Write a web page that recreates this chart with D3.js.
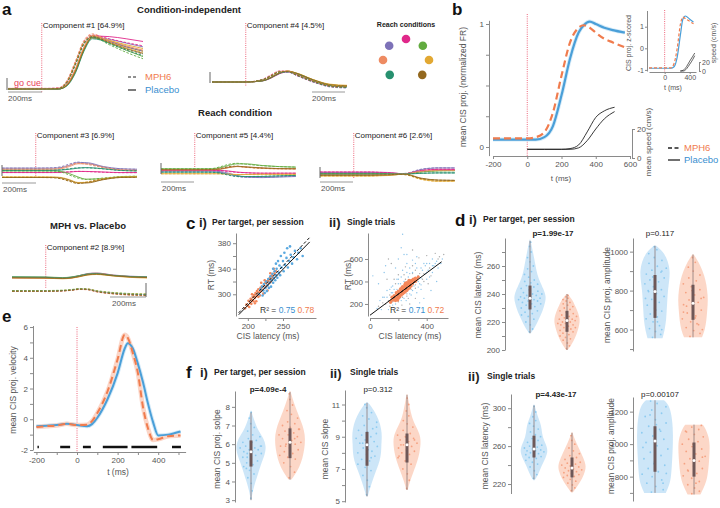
<!DOCTYPE html>
<html lang="en">
<head>
<meta charset="utf-8">
<title>CIS figure</title>
<script src="https://d3js.org/d3.v7.min.js"></script>
<style>
  body{margin:0;background:#fff;}
  text{font-family:"Liberation Sans",Arial,sans-serif;}
</style>
</head>
<body>
<div id="fig"></div>
<script>
// ---------------- data ----------------
var condNames = ["purple","pink","green","orange","yellow","teal","brown"]
var condColors = ["#7d72b8","#e0288a","#62ab3f","#ee8b62","#e2a833","#27906f","#93681e"]
var reachAngles = [137,90,43,180,0,225,315]

var compTimes = [-200,0,100,150,200,250,300,400,500,600]
var comp1Placebo = [
  [0,0,0,0.08,0.34,0.74,0.96,0.92,0.85,0.78],
  [0.01,0.01,0.01,0.09,0.36,0.76,0.98,0.97,0.93,0.88],
  [0,0,0,0.07,0.32,0.72,0.95,0.85,0.72,0.6],
  [0,0,0.01,0.1,0.38,0.78,0.99,0.9,0.8,0.72],
  [0.01,0.01,0.01,0.08,0.35,0.75,0.97,0.9,0.82,0.75],
  [0,0,0,0.06,0.3,0.7,0.93,0.86,0.75,0.66],
  [0,0,0,0.07,0.33,0.73,0.95,0.88,0.78,0.7]]
var comp1Mph = [
  [0,0,0.01,0.14,0.48,0.86,0.98,0.88,0.78,0.7],
  [0.01,0.01,0.02,0.15,0.5,0.88,1.0,0.93,0.86,0.8],
  [0,0,0.01,0.13,0.46,0.84,0.96,0.82,0.68,0.56],
  [0,0,0.02,0.16,0.52,0.9,1.02,0.88,0.76,0.66],
  [0,0,0.01,0.14,0.49,0.87,0.99,0.86,0.76,0.68],
  [0,0,0.01,0.12,0.45,0.83,0.96,0.84,0.72,0.62],
  [0,0,0.01,0.13,0.47,0.85,0.97,0.86,0.74,0.65]]
var comp4Placebo = [
  [0,0,0.12,0.4,0.8,0.95,0.75,0.1,-0.35,-0.45],
  [0,0,0.1,0.35,0.75,0.92,0.72,0.12,-0.3,-0.4],
  [0,0,0.12,0.42,0.82,0.98,0.8,0.2,-0.25,-0.35],
  [0,0,0.14,0.45,0.85,1.0,0.78,0.15,-0.3,-0.4],
  [0,0,0.12,0.4,0.82,0.98,0.82,0.22,-0.2,-0.3],
  [0,0,0.1,0.38,0.78,0.95,0.76,0.15,-0.3,-0.45],
  [0,0,0.12,0.42,0.82,0.98,0.8,0.2,-0.25,-0.35]]
var comp4Mph = [
  [0,0,0.2,0.55,0.9,0.9,0.6,0.0,-0.45,-0.55],
  [0,0,0.25,0.65,1.0,0.95,0.6,0.0,-0.4,-0.5],
  [0,0,0.22,0.58,0.95,0.95,0.65,0.05,-0.35,-0.45],
  [0,0,0.22,0.6,0.98,0.98,0.65,0.05,-0.4,-0.5],
  [0,0,0.2,0.55,0.92,0.96,0.68,0.1,-0.3,-0.4],
  [0,0,0.2,0.55,0.9,0.92,0.62,0.02,-0.4,-0.5],
  [0,0,0.2,0.56,0.92,0.95,0.66,0.08,-0.35,-0.45]]
var comp3Placebo = [
  [0.35,0.35,0.35,0.4,0.6,0.85,0.85,0.5,0.3,0.25],
  [-0.05,-0.05,-0.05,-0.05,0.0,0.05,0.05,0.0,-0.05,-0.05],
  [0.1,0.1,0.1,0.05,-0.15,-0.45,-0.65,-0.6,-0.45,-0.4],
  [0.25,0.25,0.25,0.3,0.5,0.75,0.75,0.45,0.2,0.15],
  [-0.45,-0.45,-0.45,-0.5,-0.7,-0.95,-0.95,-0.65,-0.45,-0.42],
  [0.15,0.15,0.15,0.18,0.25,0.35,0.4,0.3,0.15,0.1],
  [-0.5,-0.5,-0.5,-0.55,-0.75,-1.0,-1.0,-0.7,-0.5,-0.48]]
var comp3Mph = [
  [0.35,0.35,0.38,0.48,0.72,0.9,0.8,0.45,0.28,0.25],
  [-0.05,-0.05,-0.05,-0.03,0.02,0.06,0.04,-0.02,-0.06,-0.06],
  [0.1,0.1,0.08,0.0,-0.28,-0.55,-0.68,-0.55,-0.42,-0.38],
  [0.25,0.25,0.28,0.38,0.62,0.8,0.7,0.4,0.2,0.15],
  [-0.45,-0.45,-0.48,-0.58,-0.82,-1.0,-0.9,-0.6,-0.45,-0.42],
  [0.15,0.15,0.16,0.2,0.3,0.38,0.38,0.28,0.14,0.1],
  [-0.5,-0.5,-0.52,-0.62,-0.85,-1.05,-0.95,-0.65,-0.5,-0.48]]
var comp5Placebo = [
  [0.0,0.0,0.0,-0.05,-0.2,-0.4,-0.55,-0.6,-0.55,-0.5],
  [0.05,0.05,0.05,0.05,0.0,-0.1,-0.15,-0.2,-0.2,-0.2],
  [0.2,0.2,0.2,0.3,0.5,0.65,0.65,0.5,0.4,0.35],
  [0.1,0.1,0.1,0.15,0.3,0.4,0.35,0.25,0.2,0.2],
  [-0.25,-0.25,-0.25,-0.25,-0.28,-0.32,-0.32,-0.3,-0.3,-0.3],
  [-0.1,-0.1,-0.1,-0.15,-0.3,-0.45,-0.5,-0.5,-0.45,-0.4],
  [0.12,0.12,0.12,0.18,0.32,0.42,0.38,0.28,0.22,0.2]]
var comp5Mph = [
  [0.0,0.0,-0.02,-0.1,-0.3,-0.5,-0.58,-0.58,-0.52,-0.48],
  [0.05,0.05,0.05,0.03,-0.05,-0.12,-0.16,-0.2,-0.2,-0.2],
  [0.2,0.2,0.22,0.38,0.6,0.7,0.62,0.48,0.4,0.36],
  [0.1,0.1,0.12,0.2,0.36,0.42,0.34,0.24,0.2,0.2],
  [-0.25,-0.25,-0.25,-0.26,-0.3,-0.33,-0.32,-0.3,-0.3,-0.3],
  [-0.1,-0.1,-0.12,-0.2,-0.38,-0.5,-0.5,-0.48,-0.44,-0.4],
  [0.12,0.12,0.14,0.22,0.38,0.44,0.36,0.26,0.22,0.2]]
var comp6Placebo = [
  [0.12,0.12,0.12,0.11,0.1,0.06,0.0,0.4,0.55,0.55],
  [0.18,0.18,0.18,0.16,0.14,0.08,0.0,0.3,0.42,0.42],
  [0.05,0.05,0.05,0.05,0.04,0.02,0.0,0.18,0.28,0.3],
  [-0.05,-0.05,-0.05,-0.05,-0.04,-0.02,0.0,0.22,0.32,0.32],
  [-0.18,-0.18,-0.18,-0.16,-0.14,-0.08,0.0,-0.45,-0.65,-0.65],
  [0.0,0.0,0.0,0.0,0.0,0.0,0.0,0.06,0.1,0.1],
  [-0.12,-0.12,-0.12,-0.11,-0.1,-0.06,0.0,-0.38,-0.55,-0.58]]
var comp6Mph = [
  [0.12,0.12,0.12,0.1,0.08,0.03,0.05,0.44,0.56,0.55],
  [0.18,0.18,0.18,0.15,0.12,0.05,0.04,0.33,0.43,0.42],
  [0.05,0.05,0.05,0.05,0.03,0.01,0.02,0.2,0.29,0.3],
  [-0.05,-0.05,-0.05,-0.05,-0.03,0.0,0.03,0.25,0.33,0.32],
  [-0.18,-0.18,-0.18,-0.15,-0.12,-0.04,-0.06,-0.5,-0.66,-0.65],
  [0.0,0.0,0.0,0.0,0.0,0.0,0.01,0.07,0.1,0.1],
  [-0.12,-0.12,-0.12,-0.1,-0.08,-0.03,-0.05,-0.42,-0.56,-0.58]]
var comp2Placebo = [
  [0.7,0.68,0.62,0.68,0.85,1.05,1.1,0.9,0.78,0.72],
  [0.62,0.6,0.55,0.6,0.78,0.98,1.05,0.85,0.72,0.66],
  [0.72,0.7,0.64,0.7,0.85,1.0,1.02,0.85,0.75,0.7],
  [0.65,0.63,0.58,0.64,0.82,1.02,1.08,0.88,0.74,0.68],
  [0.6,0.58,0.52,0.58,0.72,0.9,0.95,0.8,0.66,0.6],
  [0.68,0.66,0.6,0.66,0.82,1.0,1.04,0.86,0.74,0.7],
  [0.62,0.6,0.55,0.6,0.75,0.92,0.98,0.82,0.7,0.64]]
var comp2Mph = [
  [-0.7,-0.7,-0.66,-0.6,-0.5,-0.52,-0.7,-0.9,-1.0,-1.05],
  [-0.72,-0.72,-0.68,-0.62,-0.52,-0.55,-0.75,-0.95,-1.05,-1.1],
  [-0.65,-0.65,-0.62,-0.56,-0.46,-0.5,-0.66,-0.85,-0.95,-1.0],
  [-0.75,-0.75,-0.7,-0.64,-0.55,-0.58,-0.78,-1.0,-1.12,-1.18],
  [-0.68,-0.68,-0.64,-0.58,-0.48,-0.5,-0.68,-0.88,-0.98,-1.02],
  [-0.7,-0.7,-0.66,-0.6,-0.5,-0.54,-0.72,-0.92,-1.02,-1.08],
  [-0.73,-0.73,-0.69,-0.63,-0.53,-0.56,-0.76,-0.97,-1.08,-1.14]]

// panel b
var bTimes = [-200,0,50,100,150,200,250,300,330,365,400,450,500,570]
var bPlacebo = [0.06,0.06,0.06,0.08,0.17,0.42,0.72,0.93,0.99,1.02,1.0,0.97,0.95,0.93]
var bMph = [0.07,0.07,0.08,0.12,0.28,0.58,0.85,0.97,0.99,0.97,0.93,0.88,0.85,0.81]
var bSpeedTimes = [0,100,200,250,300,350,400,450,510]
var bSpeedA = [6,6,6,6.5,9,18,28,32.5,35]
var bSpeedB = [6,6,6,6,7,12,20,27,32]
var insetTimes = [-250,100,150,200,250,290,330,400,460]
var insetMph = [-0.9,-0.9,-0.7,0.0,1.1,1.45,1.38,1.25,1.14]
var insetPlacebo = [-0.92,-0.92,-0.85,-0.4,0.6,1.35,1.5,1.35,1.22]
var insetSpeedTimes = [250,300,350,400,450,480]
var insetSpeedA = [0,2,10,22,33,40]
var insetSpeedB = [0,0,5,15,26,34]

// panel c  [CIS latency, RT]
var cSessOrange = [[196,278],[198,284],[200,282],[201,290],[203,287],[204,293],[205,285],[206,291],[207,296],[208,289],[209,299],[210,294],[211,302],[212,297],[212,289],[213,305],[214,300],[215,308],[216,303],[217,298],[218,310],[219,305],[220,312],[221,307],[222,301],[223,315],[224,310],[225,318],[226,312],[227,320],[228,314],[229,322],[230,317],[231,325],[232,319],[233,328],[234,322],[235,330],[236,326],[238,333],[240,336],[202,280],[206,300],[210,286],[215,296],[219,318],[224,322],[228,306],[232,333],[237,340]]
var cSessBlue = [[216,300],[218,308],[220,312],[221,298],[222,306],[223,316],[224,302],[225,310],[226,320],[227,305],[228,314],[229,324],[230,310],[231,318],[232,328],[233,312],[234,322],[235,332],[236,318],[237,326],[238,336],[239,322],[240,330],[241,340],[242,326],[244,334],[245,345],[246,330],[248,342],[250,352],[251,336],[253,346],[255,357],[257,342],[259,352],[261,362],[263,348],[265,358],[267,368],[270,355],[272,365],[275,372],[278,360],[243,352],[247,360],[252,365],[256,372],[260,375],[236,340],[240,348]]
var cSessFitSolid = [[187,268],[288,382]]
var cSessFitDashed = [[187,271],[288,389]]
var cTrialsCloud = [[60,180],[80,150],[90,260],[110,200],[120,320],[130,150],[140,280],[150,350],[160,190],[170,420],[180,240],[190,330],[200,460],[210,250],[215,380],[225,190],[230,500],[240,300],[250,420],[255,230],[260,560],[270,340],[280,470],[290,280],[295,400],[300,590],[310,360],[320,500],[330,300],[340,450],[345,610],[350,380],[360,520],[370,420],[380,560],[390,470],[400,630],[410,500],[420,560],[430,450],[440,600],[450,540],[460,650],[470,580],[480,520],[490,620],[500,560],[510,600],[520,640],[200,600],[100,480],[150,560],[430,320],[380,250],[300,680],[240,640],[60,380],[120,420],[350,210],[470,400],[280,200],[180,520],[330,620],[410,380],[260,640],[160,300],[130,600],[220,700],[20,450],[270,250],[230,820],[110,540],[320,250],[440,480],[360,330],[250,530],[190,420],[400,560],[300,470],[140,210],
  [100,260],[130,230],[150,300],[170,330],[190,280],[200,380],[210,330],[230,260],[240,400],[250,350],[260,290],[270,440],[280,390],[290,330],[300,480],[310,420],[320,370],[330,520],[340,400],[350,470],[360,430],[370,500],[380,470],[390,540],[400,480],[420,520],[440,540],[460,560],[480,600],[140,330],[160,360],[180,380],[200,420],[220,440],[240,460],[260,480],[280,520],[300,540],[320,560],[120,260],[140,180],[160,220],[180,200],[200,220],[220,230],[240,250],[260,270],[280,290],[300,320],[320,340],[340,350],[360,370],[380,400],[400,420],[420,440],[90,210],[70,230],[50,160]]
var cTrialsOrange = [[150,230],[160,245],[165,235],[170,255],[175,250],[180,265],[182,245],[185,275],[190,260],[192,280],[195,270],[198,290],[200,265],[203,285],[205,300],[208,280],[210,295],[212,310],[215,290],[217,305],[220,320],[222,300],[224,315],[226,330],[228,310],[230,325],[232,340],[234,315],[236,330],[238,345],[240,320],[242,335],[244,350],[246,330],[248,345],[250,360],[252,340],[254,355],[256,370],[258,350],[260,365],[263,380],[266,360],[268,375],[270,390],[273,370],[276,385],[280,400],[284,380],[288,395],[292,410],[296,390],[300,405],[305,420],[310,400],[315,415],[320,430],[330,420],[340,440],[180,230],[190,245],[200,250],[210,265],[220,280],[230,290],[240,300],[250,310],[260,320],[270,335],[280,345],[290,360],[170,275],[185,300],[200,315],[215,335],[230,355],[245,370],[260,390],[275,410],[155,260],[145,215],[195,235],[235,300],[265,345],[300,380],[320,400],[225,345],[250,385]]
var cTrialsFitSolid = [[0,100],[505,575]]
var cTrialsFitDashed = [[160,250],[330,410]]

// panel d / f violins: density profile [value, relative density], points, [min,q1,median,q3,max]
var dLatBlueDens = [[212,0.05],[216,0.3],[222,0.55],[228,0.8],[234,0.95],[238,1.0],[242,0.9],[248,0.65],[254,0.45],[260,0.35],[266,0.25],[272,0.15],[279,0.02]]
var dLatBluePts = [213,215,218,220,222,224,225,226,227,228,229,230,231,232,233,233,234,235,235,236,236,237,237,238,238,239,239,240,240,241,242,243,244,245,246,247,248,249,250,252,254,256,258,260,263,266,270,274,277]
var dLatBlueBox = [212,229,237,246,278]
var dLatOrangeDens = [[200,0.05],[204,0.35],[208,0.6],[213,0.8],[218,0.95],[222,1.0],[227,0.85],[232,0.6],[236,0.4],[240,0.05]]
var dLatOrangePts = [201,203,205,207,208,209,210,211,212,213,214,214,215,216,216,217,218,218,219,219,220,220,221,221,222,222,223,224,224,225,226,227,228,229,230,231,232,233,234,235,236,237,238,239]
var dLatOrangeBox = [200,213,221,228,240]
var dAmpBlueDens = [[555,0.5],[600,0.65],[650,0.75],[700,0.78],[750,0.82],[800,0.86],[850,0.95],[900,1.0],[950,0.88],[1000,0.55],[1030,0.08]]
var dAmpBluePts = [560,575,590,605,620,640,655,665,680,695,710,725,740,755,770,785,795,805,820,835,845,855,865,875,885,895,905,915,925,940,955,970,990,1010,1025,600,700,800,900,870,760,640]
var dAmpBlueBox = [555,660,795,880,1030]
var dAmpOrangeDens = [[560,0.6],[600,0.8],[650,0.9],[700,0.95],[750,1.0],[800,0.95],[850,0.85],[900,0.65],[950,0.35],[985,0.05]]
var dAmpOrangePts = [565,580,595,610,625,640,655,670,685,700,715,728,740,752,765,778,790,805,820,835,850,865,880,900,920,945,970,600,660,720,760,800,690,630]
var dAmpOrangeBox = [560,650,735,830,985]
var d2LatBlueDens = [[224,0.05],[230,0.3],[240,0.55],[248,0.85],[255,1.0],[262,0.85],[270,0.6],[278,0.55],[285,0.45],[292,0.25],[300,0.1],[304,0.02]]
var d2LatBluePts = [226,230,234,238,241,243,245,247,248,249,250,251,252,253,254,255,255,256,257,258,259,260,261,262,264,266,268,270,272,275,278,281,284,287,291,296,302]
var d2LatBlueBox = [225,248,257,271,303]
var d2LatOrangeDens = [[211,0.05],[218,0.4],[226,0.75],[234,0.95],[240,1.0],[248,0.8],[256,0.55],[264,0.3],[270,0.12],[275,0.02]]
var d2LatOrangePts = [213,216,219,221,223,225,227,228,229,230,231,232,233,234,235,236,237,238,239,240,241,242,243,244,246,248,250,252,255,258,262,266,271]
var d2LatOrangeBox = [212,227,237,248,274]
var d2AmpBlueDens = [[700,0.6],[750,0.8],[800,0.9],[900,0.95],[1000,1.0],[1100,1.0],[1200,0.9],[1250,0.7],[1270,0.5]]
var d2AmpBluePts = [705,720,740,760,780,800,815,830,850,870,890,910,930,950,970,990,1010,1030,1050,1070,1090,1110,1130,1150,1170,1190,1210,1230,1250,1265,760,880,980,1080,1180,820,1120]
var d2AmpBlueBox = [700,830,1020,1110,1270]
var d2AmpOrangeDens = [[690,0.4],[750,0.7],[800,0.85],[900,0.95],[1000,1.0],[1050,0.9],[1100,0.7],[1120,0.55]]
var d2AmpOrangePts = [695,710,730,750,770,790,805,820,835,850,865,880,895,910,925,940,955,970,985,1000,1015,1030,1045,1060,1075,1090,1105,1115,760,840,920,1000,1080]
var d2AmpOrangeBox = [690,800,900,1010,1120]
var fSlopeBlueDens = [[3.0,0.02],[3.5,0.12],[4.0,0.3],[4.5,0.5],[5.0,0.7],[5.5,0.95],[5.9,1.0],[6.3,0.85],[6.7,0.5],[7.1,0.3],[7.5,0.12],[7.8,0.02]]
var fSlopeBluePts = [3.1,3.5,3.9,4.2,4.4,4.6,4.8,4.9,5.0,5.1,5.2,5.3,5.4,5.5,5.5,5.6,5.6,5.7,5.7,5.8,5.8,5.9,5.9,6.0,6.1,6.2,6.3,6.4,6.5,6.7,6.9,7.1,7.4,7.7,5.3,5.9,6.1,4.7]
var fSlopeBlueBox = [3.0,4.8,5.6,6.2,7.7]
var fSlopeOrangeDens = [[4.1,0.1],[4.5,0.45],[5.0,0.75],[5.5,0.9],[6.0,1.0],[6.5,1.0],[7.0,0.85],[7.5,0.6],[8.0,0.35],[8.5,0.15],[8.85,0.02]]
var fSlopeOrangePts = [4.2,4.5,4.8,5.0,5.2,5.3,5.4,5.5,5.6,5.7,5.8,5.9,6.0,6.0,6.1,6.2,6.3,6.4,6.5,6.5,6.6,6.7,6.8,6.9,7.0,7.1,7.2,7.4,7.6,7.8,8.1,8.4,8.7,6.3,5.9,6.8]
var fSlopeOrangeBox = [4.1,5.25,6.1,6.85,8.8]
var f2SlopeBlueDens = [[5.3,0.05],[5.8,0.2],[6.5,0.45],[7.0,0.65],[7.5,0.85],[8.0,0.95],[8.5,0.95],[9.0,1.0],[9.5,0.95],[10.0,0.8],[10.5,0.55],[11.0,0.2],[11.15,0.02]]
var f2SlopeBluePts = [5.4,5.9,6.3,6.6,6.9,7.1,7.3,7.5,7.6,7.8,7.9,8.0,8.1,8.3,8.4,8.5,8.6,8.7,8.8,8.9,9.0,9.1,9.2,9.3,9.4,9.5,9.7,9.9,10.1,10.3,10.5,10.8,11.0,7.7,8.6,9.6,8.2]
var f2SlopeBlueBox = [5.3,7.2,8.5,9.3,11.1]
var f2SlopeOrangeDens = [[5.7,0.05],[6.2,0.2],[6.8,0.45],[7.5,0.75],[8.0,0.9],[8.7,1.0],[9.2,0.9],[9.7,0.6],[10.2,0.35],[10.8,0.2],[11.3,0.1],[11.65,0.02]]
var f2SlopeOrangePts = [5.8,6.3,6.7,7.0,7.3,7.5,7.7,7.9,8.0,8.1,8.2,8.3,8.4,8.5,8.6,8.7,8.8,8.9,9.0,9.1,9.2,9.4,9.6,9.8,10.0,10.3,10.6,11.0,11.4,8.5,8.8,9.0,7.8]
var f2SlopeOrangeBox = [5.7,7.4,8.5,9.2,11.6]

// panel e
var eTimes = [-200,-150,-100,-50,0,50,75,100,150,200,235,250,275,300,325,350,375,400,450,510]
var ePlacebo = [-0.45,-0.42,-0.38,-0.3,-0.38,-0.45,-0.3,0.1,1.3,3.0,4.6,4.95,4.6,3.6,2.4,1.0,-0.2,-1.05,-1.0,-0.8]
var eMph = [-0.5,-0.45,-0.4,-0.3,-0.38,-0.35,-0.1,0.4,1.8,3.9,5.5,5.3,4.3,3.0,0.8,-0.6,-1.35,-1.3,-1.1,-1.05]
var eSigBars = [[-195,-188],[-83,-34],[29,68],[127,249],[268,395],[468,512]]

// ---------------- drawing ----------------
var BLUE = "#4a9fd8", ORANGE = "#f07c4e", RED = "#e8405a"
var svg = d3.select("#fig").append("svg").attr("width",720).attr("height",508)

function txt(x,y,s,size,opt){
  opt = opt || {}
  var t = svg.append("text").attr("x",x).attr("y",y).text(s)
    .style("font-size",size+"px")
    .attr("fill",opt.fill||"#222")
    .attr("text-anchor",opt.anchor||"start")
    .style("font-weight",opt.bold?"bold":"normal")
  if(opt.rot) t.attr("transform","rotate(-90,"+x+","+y+")")
  return t
}
function axis(orient,pos,scale,ticks,labels,fs){
  var gen = orient=="left"?d3.axisLeft(scale):orient=="right"?d3.axisRight(scale):d3.axisBottom(scale)
  gen.tickValues(ticks).tickSize(fs?2:3).tickSizeOuter(0).tickPadding(fs?1:2)
    .tickFormat(function(d){ return labels.indexOf(d)>=0 ? d : "" })
  var g = svg.append("g").attr("transform", orient=="bottom" ? "translate(0,"+pos+")" : "translate("+pos+",0)").call(gen)
  g.select(".domain").attr("stroke","#8a8a8a")
  g.selectAll(".tick line").attr("stroke","#8a8a8a")
  g.selectAll(".tick text").attr("fill","#555").style("font-size",(fs||8)+"px").style("font-family","Liberation Sans, Arial, sans-serif")
  return g
}
function redLine(x,y1,y2){
  svg.append("line").attr("x1",x).attr("x2",x).attr("y1",y1).attr("y2",y2)
    .attr("stroke",RED).attr("stroke-width",0.8).attr("stroke-dasharray","1,1.2")
}
function seg(x1,y1,x2,y2,col,w,dash){
  var l = svg.append("line").attr("x1",x1).attr("x2",x2).attr("y1",y1).attr("y2",y2)
    .attr("stroke",col).attr("stroke-width",w)
  if(dash) l.attr("stroke-dasharray",dash)
  return l
}

// ---- panel a ----
txt(2,15,"a",17,{bold:true,fill:"#111"})
txt(189,13,"Condition-independent",9.5,{bold:true,anchor:"middle"})
txt(235,116,"Reach condition",9.5,{bold:true,anchor:"middle"})
txt(88,229,"MPH vs. Placebo",9.5,{bold:true,anchor:"middle"})

function drawComp(x0,yMid,perUnit,plac,mph,label,labelY){
  var x = d3.scaleLinear().domain([-200,600]).range([x0,x0+135])
  var y = d3.scaleLinear().domain([0,1]).range([yMid,yMid-perUnit])
  var line = d3.line().x(function(d,i){return x(compTimes[i])}).y(function(d){return y(d)}).curve(d3.curveMonotoneX)
  redLine(x(0),labelY-5,yMid+4)
  txt(x(0)+1,labelY,label,8,{fill:"#222"})
  plac.forEach(function(arr,i){
    svg.append("path").attr("d",line(arr)).attr("fill","none").attr("stroke",condColors[i]).attr("stroke-width",0.9)
  })
  mph.forEach(function(arr,i){
    svg.append("path").attr("d",line(arr)).attr("fill","none").attr("stroke",condColors[i]).attr("stroke-width",0.9).attr("stroke-dasharray","2.5,1.5")
  })
  return x
}
function scaleBar(xl,yb,vTop,hx1,hx2,hy,tx,ty){
  seg(xl,vTop,xl,yb,"#666",1)
  seg(hx1,hy,hx2,hy,"#999",1)
  txt(tx,ty,"200ms",8,{fill:"#555"})
}

drawComp(8,89,54,comp1Placebo,comp1Mph,"Component #1 [64.9%]",28)
scaleBar(7,90,78,8,42,92,8,101)
txt(14,86,"go cue",9,{fill:RED})
seg(128,77,136,77,"#222",1.2,"3,2")
txt(145,80,"MPH6",9.5,{fill:ORANGE})
seg(128,90,136,90,"#222",1.2)
txt(145,93,"Placebo",9.5,{fill:"#3a8fd0"})

drawComp(212,82,11,comp4Placebo,comp4Mph,"Component #4 [4.5%]",28)
scaleBar(210,83,72,312,345,92,312,101)

txt(406,27,"Reach conditions",7,{bold:true,anchor:"middle"})
reachAngles.forEach(function(a,i){
  var r = a*Math.PI/180
  svg.append("circle").attr("cx",406+23*Math.cos(r)).attr("cy",60-21*Math.sin(r)).attr("r",4.3).attr("fill",condColors[i])
})

drawComp(2,172,11,comp3Placebo,comp3Mph,"Component #3 [6.9%]",138)
scaleBar(2,176,165,2,36,183,3,192)
drawComp(161,171,11,comp5Placebo,comp5Mph,"Component #5 [4.4%]",138)
scaleBar(161,174,163,161,194,182,162,191)
drawComp(320,174,11,comp6Placebo,comp6Mph,"Component #6 [2.6%]",138)
scaleBar(320,178,167,320,353,182,321,191)
drawComp(12,284,10,comp2Placebo,comp2Mph,"Component #2 [8.9%]",250)
scaleBar(146,297,283,110,146,297,112,306)

// ---- panel b ----
txt(452,15,"b",17,{bold:true,fill:"#111"})
var bx = d3.scaleLinear().domain([-200,600]).range([493,630])
var by = d3.scaleLinear().domain([0,1]).range([147,24])
var bs = d3.scaleLinear().domain([0,20]).range([158,129])
axis("left",489,d3.scaleLinear().domain([-0.07,1.03]).range([155.6,20.3]),[0,0.25,0.5,0.75,1],[0,1])
axis("bottom",156,bx,[-200,0,200,400,600],[-200,0,200,400,600])
axis("right",632,bs,[0,20],[0,20])
txt(561,181,"t (ms)",8,{fill:"#555",anchor:"middle"})
txt(466,87,"mean CIS proj. (normalized FR)",8.5,{fill:"#555",anchor:"middle",rot:true})
txt(651,142,"mean speed (cm/s)",8,{fill:"#555",anchor:"middle",rot:true})
redLine(bx(0),14,156)
var bLine = d3.line().x(function(d,i){return bx(bTimes[i])}).y(function(d){return by(d)}).curve(d3.curveMonotoneX)
var bsLine = d3.line().x(function(d,i){return bx(bSpeedTimes[i])}).y(function(d){return bs(d)}).curve(d3.curveMonotoneX)
svg.append("path").attr("d",bsLine(bSpeedA)).attr("fill","none").attr("stroke","#222").attr("stroke-width",0.9)
svg.append("path").attr("d",bsLine(bSpeedB)).attr("fill","none").attr("stroke","#222").attr("stroke-width",0.9)
svg.append("path").attr("d",bLine(bPlacebo)).attr("fill","none").attr("stroke","#d6ebf8").attr("stroke-width",4)
svg.append("path").attr("d",bLine(bPlacebo)).attr("fill","none").attr("stroke",BLUE).attr("stroke-width",2.2)
svg.append("path").attr("d",bLine(bMph)).attr("fill","none").attr("stroke",ORANGE).attr("stroke-width",2.2).attr("stroke-dasharray","7,4")
seg(668,148,680,148,"#222",1.3,"4,2.5")
txt(684,151,"MPH6",9.5,{fill:ORANGE})
seg(668,160,680,160,"#222",1.3)
txt(684,163,"Placebo",9.5,{fill:"#3a8fd0"})

// inset
var ix = d3.scaleLinear().domain([-250,500]).range([649,696])
var iy = d3.scaleLinear().domain([-1,1.5]).range([70,16])
var is = d3.scaleLinear().domain([0,20]).range([71,62])
axis("left",647,d3.scaleLinear().domain([-1.05,1.75]).range([71,10.5]),[-1,0,1],[-1,0,1],7)
axis("bottom",72,ix,[0,400],[0,400],7)
axis("right",699,is,[0,20],[0,20],7)
txt(673,90,"t (ms)",7,{fill:"#555",anchor:"middle"})
txt(631,43,"CIS proj. z-scored",7,{fill:"#555",anchor:"middle",rot:true})
txt(716,43,"speed (cm/s)",7,{fill:"#555",anchor:"middle",rot:true})
redLine(ix(0),10,72)
var iLine = d3.line().x(function(d,i){return ix(insetTimes[i])}).y(function(d){return iy(d)}).curve(d3.curveMonotoneX)
var isLine = d3.line().x(function(d,i){return ix(insetSpeedTimes[i])}).y(function(d){return is(d)}).curve(d3.curveMonotoneX)
svg.append("path").attr("d",isLine(insetSpeedA)).attr("fill","none").attr("stroke","#222").attr("stroke-width",0.7)
svg.append("path").attr("d",isLine(insetSpeedB)).attr("fill","none").attr("stroke","#222").attr("stroke-width",0.7)
svg.append("path").attr("d",iLine(insetPlacebo)).attr("fill","none").attr("stroke",BLUE).attr("stroke-width",1.2)
svg.append("path").attr("d",iLine(insetMph)).attr("fill","none").attr("stroke",ORANGE).attr("stroke-width",1.2).attr("stroke-dasharray","3,2")

// ---- panel c ----
txt(186,229,"c",17,{bold:true,fill:"#111"})
txt(199,227,"i)",13,{bold:true})
txt(212,225,"Per target, per session",8.5,{bold:true})
txt(329,227,"ii)",13,{bold:true})
txt(347,225,"Single trials",8.5,{bold:true})

var c1x = d3.scaleLinear().domain([186,297]).range([238,316])
var c1y = d3.scaleLinear().domain([266,396]).range([316,233])
axis("left",236,c1y,[300,320,340,360,380],[300,340,380])
axis("bottom",318,c1x,[200,225,250],[200,250])
txt(214,275,"RT (ms)",8.5,{fill:"#555",anchor:"middle",rot:true})
txt(268,339,"CIS latency (ms)",8.5,{fill:"#555",anchor:"middle"})
cSessOrange.forEach(function(p){ svg.append("circle").attr("cx",c1x(p[0])).attr("cy",c1y(p[1])).attr("r",1.3).attr("fill","#f4875a") })
cSessBlue.forEach(function(p){ svg.append("circle").attr("cx",c1x(p[0])).attr("cy",c1y(p[1])).attr("r",1.3).attr("fill","#5aa9e0") })
seg(c1x(cSessFitSolid[0][0]),c1y(cSessFitSolid[0][1]),c1x(cSessFitSolid[1][0]),c1y(cSessFitSolid[1][1]),"#111",1)
seg(c1x(cSessFitDashed[0][0]),c1y(cSessFitDashed[0][1]),c1x(cSessFitDashed[1][0]),c1y(cSessFitDashed[1][1]),"#111",1,"3,2")
var r1 = txt(260,313,"",8.5)
r1.append("tspan").text("R² = ").attr("fill","#333")
r1.append("tspan").text("0.75").attr("fill","#3a8fd0")
r1.append("tspan").text(" 0.78").attr("fill",ORANGE)

var c2x = d3.scaleLinear().domain([0,550]).range([370,448])
var c2y = d3.scaleLinear().domain([93,831]).range([316,233])
axis("left",368,c2y,[200,400,600],[200,400,600])
axis("bottom",318,c2x,[0,200,400],[0,400])
txt(351,275,"RT (ms)",8.5,{fill:"#555",anchor:"middle",rot:true})
txt(410,339,"CIS latency (ms)",8.5,{fill:"#555",anchor:"middle"})
cTrialsCloud.forEach(function(p,i){ svg.append("circle").attr("cx",c2x(p[0])).attr("cy",c2y(p[1])).attr("r",0.7).attr("fill",i%3==0?"#aaa":"#8cc4ea") })
cTrialsOrange.forEach(function(p){ svg.append("circle").attr("cx",c2x(p[0])).attr("cy",c2y(p[1])).attr("r",1.6).attr("fill","#f4875a") })
seg(c2x(cTrialsFitSolid[0][0]),c2y(cTrialsFitSolid[0][1]),c2x(cTrialsFitSolid[1][0]),c2y(cTrialsFitSolid[1][1]),"#111",1)
seg(c2x(cTrialsFitDashed[0][0]),c2y(cTrialsFitDashed[0][1]),c2x(cTrialsFitDashed[1][0]),c2y(cTrialsFitDashed[1][1]),"#111",1,"3,2")
var r2 = txt(390,313,"",8.5)
r2.append("tspan").text("R² = ").attr("fill","#333")
r2.append("tspan").text("0.71").attr("fill","#3a8fd0")
r2.append("tspan").text(" 0.72").attr("fill",ORANGE)

// ---- violins ----
function violin(cx,yScale,dens,pts,box,isBlue,maxHalf){
  var fill = isBlue ? "#c4e2f7" : "#fcd0bd"
  var ptc = isBlue ? "#8ecbf0" : "#f5a282"
  var w = d3.scaleLinear().domain([0,1]).range([0,maxHalf])
  var area = d3.area().y(function(d){return yScale(d[0])})
    .x0(function(d){return cx-w(d[1])}).x1(function(d){return cx+w(d[1])}).curve(d3.curveBasis)
  svg.append("path").attr("d",area(dens)).attr("fill",fill).attr("opacity",0.85)
  var vals = dens.map(function(d){return d[0]}), ds = dens.map(function(d){return d[1]})
  var half = d3.scaleLinear().domain(vals).range(ds).clamp(true)
  pts.forEach(function(v,i){
    var j = ((i*0.6180339+0.3)%1)*2-1
    svg.append("circle").attr("cx",cx+j*w(half(v))*0.8).attr("cy",yScale(v)).attr("r",0.9).attr("fill",ptc)
  })
  seg(cx,yScale(box[0]),cx,yScale(box[4]),"#8a7a7a",0.8)
  svg.append("rect").attr("x",cx-1.5).attr("width",3).attr("y",yScale(box[3])).attr("height",yScale(box[1])-yScale(box[3])).attr("fill","#6e5858")
  svg.append("circle").attr("cx",cx).attr("cy",yScale(box[2])).attr("r",1.5).attr("fill","#fff")
}

// ---- panel d ----
txt(455,226,"d",17,{bold:true,fill:"#111"})
txt(469,224,"i)",13,{bold:true})
txt(483,222,"Per target, per session",8.5,{bold:true})
var d1y = d3.scaleLinear().domain([200,280]).range([350,238])
axis("left",505,d1y,[200,210,220,230,240,250,260,270],[200,220,240,260])
txt(481,295,"mean CIS latency (ms)",8.5,{fill:"#555",anchor:"middle",rot:true})
txt(553,236,"p=1.99e-17",8,{bold:true,anchor:"middle"})
violin(530,d1y,dLatBlueDens,dLatBluePts,dLatBlueBox,true,16)
violin(567,d1y,dLatOrangeDens,dLatOrangePts,dLatOrangeBox,false,13)

var d2y = d3.scaleLinear().domain([490,1070]).range([351,238])
axis("left",633,d2y,[500,600,700,800,900,1000],[600,800,1000])
txt(610,295,"mean CIS proj. amplitude",8.5,{fill:"#555",anchor:"middle",rot:true})
txt(660,236,"p=0.117",8,{anchor:"middle"})
violin(655,d2y,dAmpBlueDens,dAmpBluePts,dAmpBlueBox,true,15)
violin(693,d2y,dAmpOrangeDens,dAmpOrangePts,dAmpOrangeBox,false,15)

txt(468,381,"ii)",13,{bold:true})
txt(487,379,"Single trials",8.5,{bold:true})
var d3y = d3.scaleLinear().domain([210,315]).range([493.5,394])
axis("left",511,d3y,[220,240,260,280,300],[220,260,300])
txt(488,446,"mean CIS latency (ms)",8.5,{fill:"#555",anchor:"middle",rot:true})
txt(556,397,"p=4.43e-17",8,{bold:true,anchor:"middle"})
violin(534,d3y,d2LatBlueDens,d2LatBluePts,d2LatBlueBox,true,14)
violin(572,d3y,d2LatOrangeDens,d2LatOrangePts,d2LatOrangeBox,false,14)

var d4y = d3.scaleLinear().domain([650,1290]).range([501,397])
axis("left",633,d4y,[700,800,900,1000,1100,1200],[800,1000,1200])
txt(614,446,"mean CIS proj. amplitude",8.5,{fill:"#555",anchor:"middle",rot:true})
txt(660,397,"p=0.00107",8,{anchor:"middle"})
violin(655,d4y,d2AmpBlueDens,d2AmpBluePts,d2AmpBlueBox,true,18)
violin(694,d4y,d2AmpOrangeDens,d2AmpOrangePts,d2AmpOrangeBox,false,16)

// ---- panel e ----
txt(2,322,"e",17,{bold:true,fill:"#111"})
var ex = d3.scaleLinear().domain([-215,535]).range([33.4,185.6])
var ey = d3.scaleLinear().domain([-2,6]).range([450,327])
axis("left",33,d3.scaleLinear().domain([-2,6.1]).range([450,325.5]),[-2,-1,0,1,2,3,4,5,6],[-2,0,2,4,6])
axis("bottom",452,ex,[-200,-100,0,100,200,300,400,500],[-200,0,200,400])
txt(118,475,"t (ms)",8.5,{fill:"#555",anchor:"middle"})
txt(16,390,"mean CIS proj. velocity",8.5,{fill:"#555",anchor:"middle",rot:true})
redLine(ex(0),327,452)
var eLine = d3.line().x(function(d,i){return ex(eTimes[i])}).y(function(d){return ey(d)}).curve(d3.curveMonotoneX)
svg.append("path").attr("d",eLine(ePlacebo)).attr("fill","none").attr("stroke","#d3e9f8").attr("stroke-width",4)
svg.append("path").attr("d",eLine(eMph)).attr("fill","none").attr("stroke","#fbd6c8").attr("stroke-width",4.5)
svg.append("path").attr("d",eLine(ePlacebo)).attr("fill","none").attr("stroke",BLUE).attr("stroke-width",2)
svg.append("path").attr("d",eLine(eMph)).attr("fill","none").attr("stroke",ORANGE).attr("stroke-width",2).attr("stroke-dasharray","7,4")
eSigBars.forEach(function(b){ seg(ex(b[0]),447,ex(b[1]),447,"#111",2.5) })

// ---- panel f ----
txt(186,378,"f",17,{bold:true,fill:"#111"})
txt(200,377,"i)",13,{bold:true})
txt(214,375,"Per target, per session",8.5,{bold:true})
txt(330,378,"ii)",13,{bold:true})
txt(350,375,"Single trials",8.5,{bold:true})
var f1y = d3.scaleLinear().domain([2.9,8.85]).range([502,391])
axis("left",235,f1y,[3,4,5,6,7,8],[3,4,5,6,7,8])
txt(220,449,"mean CIS proj. solpe",8.5,{fill:"#555",anchor:"middle",rot:true})
txt(268,392,"p=4.09e-4",8,{bold:true,anchor:"middle"})
violin(251,f1y,fSlopeBlueDens,fSlopeBluePts,fSlopeBlueBox,true,15)
violin(290,f1y,fSlopeOrangeDens,fSlopeOrangePts,fSlopeOrangeBox,false,15)

var f2y = d3.scaleLinear().domain([4.95,11.9]).range([502,390])
axis("left",345,f2y,[5,6,7,8,9,10,11],[5,7,9,11])
txt(328,449,"mean CIS slope",8.5,{fill:"#555",anchor:"middle",rot:true})
txt(378,392,"p=0.312",8,{anchor:"middle"})
violin(367,f2y,f2SlopeBlueDens,f2SlopeBluePts,f2SlopeBlueBox,true,15)
violin(407,f2y,f2SlopeOrangeDens,f2SlopeOrangePts,f2SlopeOrangeBox,false,14)
</script>
</body>
</html>
